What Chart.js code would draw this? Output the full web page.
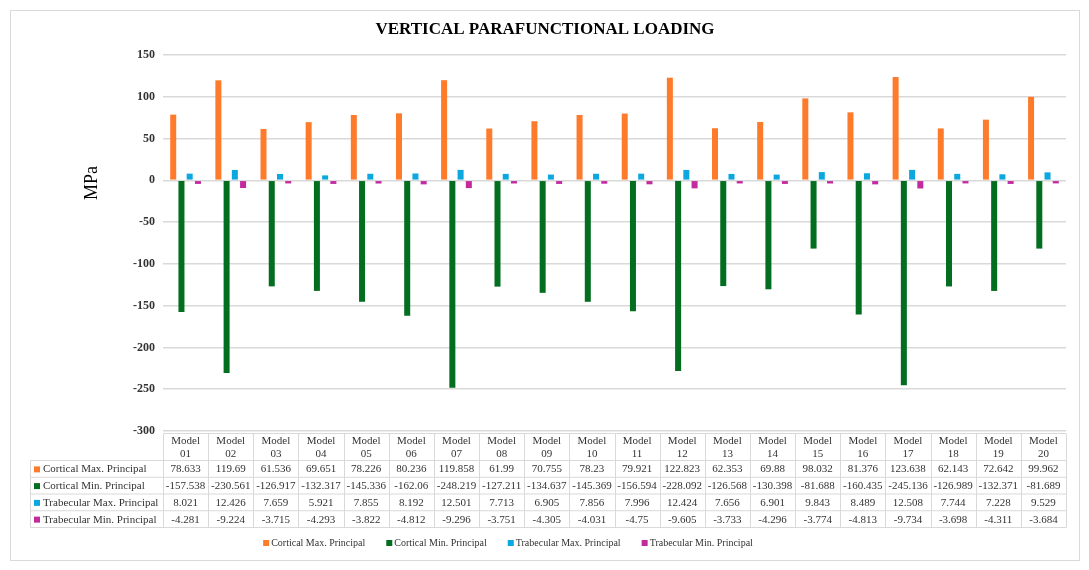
<!DOCTYPE html>
<html>
<head>
<meta charset="utf-8">
<script src="https://cdn.jsdelivr.net/npm/chart.js@4/dist/chart.umd.min.js"></script>
<style>
  body { margin: 0; background: #fff; }
  #wrap { width: 1089px; height: 570px; position: relative; }
</style>
</head>
<body>
<div id="wrap"><canvas id="grafico"></canvas></div>
<script>
// --- Dados ---
const modelos = ['01','02','03','04','05','06','07','08','09','10','11','12','13','14','15','16','17','18','19','20'];
const corticalMax = [78.633, 119.69, 61.536, 69.651, 78.226, 80.236, 119.858, 61.99, 70.755, 78.23, 79.921, 122.823, 62.353, 69.88, 98.032, 81.376, 123.638, 62.143, 72.642, 99.962];
const corticalMin = [-157.538, -230.561, -126.917, -132.317, -145.336, -162.06, -248.219, -127.211, -134.637, -145.369, -156.594, -228.092, -126.568, -130.398, -81.688, -160.435, -245.136, -126.989, -132.371, -81.689];
const trabecularMax = [8.021, 12.426, 7.659, 5.921, 7.855, 8.192, 12.501, 7.713, 6.905, 7.856, 7.996, 12.424, 7.656, 6.901, 9.843, 8.489, 12.508, 7.744, 7.228, 9.529];
const trabecularMin = [-4.281, -9.224, -3.715, -4.293, -3.822, -4.812, -9.296, -3.751, -4.305, -4.031, -4.75, -9.605, -3.733, -4.296, -3.774, -4.813, -9.734, -3.698, -4.311, -3.684];
const nomesSeries = ['Cortical Max. Principal', 'Cortical Min. Principal', 'Trabecular Max. Principal', 'Trabecular Min. Principal'];
const coresSeries = ['#FF7B2C', '#036E1F', '#0AA8DE', '#C22A9F'];
const titulo = 'VERTICAL PARAFUNCTIONAL LOADING';
const tituloEixo = 'MPa';

const FONTE = '"Liberation Serif", "Times New Roman", serif';
const COR_GRADE = '#d9d9d9';

// --- Tabela de dados, título e legenda desenhados à mão ---
const tabelaPlugin = {
    id: 'tabela',
    afterDraw(chart) {
        const ctx = chart.ctx;
        const x = chart.scales.x;
        const area = chart.chartArea;
        const meia = (x.getPixelForValue(1) - x.getPixelForValue(0)) / 2;
        const series = [corticalMax, corticalMin, trabecularMax, trabecularMin];

        ctx.save();
        // moldura externa
        ctx.strokeStyle = COR_GRADE;
        ctx.lineWidth = 1;
        ctx.strokeRect(10.5, 10.5, 1069, 550);

        // título
        ctx.fillStyle = '#000';
        ctx.font = 'bold 17px ' + FONTE;
        ctx.textAlign = 'center';
        ctx.textBaseline = 'middle';
        ctx.fillText(titulo, 545, 30);

        // título do eixo y
        ctx.save();
        ctx.translate(92, 183);
        ctx.rotate(-Math.PI / 2);
        ctx.font = '18px ' + FONTE;
        ctx.fillText(tituloEixo, 0, 0);
        ctx.restore();

        // linhas da tabela
        const topo = 433.5;
        const cab = 460.5;
        const altLinha = 16.75;
        const fim = cab + altLinha * 4;
        const esq = 30.5;
        ctx.strokeStyle = COR_GRADE;
        ctx.beginPath();
        ctx.moveTo(area.left, topo); ctx.lineTo(area.right, topo);
        for (let r = 0; r <= 4; r++) {
            const y = cab + altLinha * r;
            ctx.moveTo(esq, y); ctx.lineTo(area.right, y);
        }
        ctx.moveTo(esq, cab); ctx.lineTo(esq, fim);
        for (let i = 0; i <= modelos.length; i++) {
            const xx = Math.round(x.getPixelForValue(0) - meia + i * meia * 2) + 0.5;
            ctx.moveTo(xx, topo); ctx.lineTo(xx, fim);
        }
        ctx.stroke();

        // cabeçalho
        ctx.fillStyle = '#333';
        ctx.font = '11px ' + FONTE;
        ctx.textAlign = 'center';
        modelos.forEach((m, i) => {
            const cx = x.getPixelForValue(i);
            ctx.fillText('Model', cx, 441);
            ctx.fillText(m, cx, 454);
        });

        // linhas de valores
        series.forEach((valores, r) => {
            const cy = cab + altLinha * r + altLinha / 2 + 0.5;
            ctx.fillStyle = coresSeries[r];
            ctx.fillRect(34, cy - 3, 6, 6);
            ctx.fillStyle = '#333';
            ctx.textAlign = 'left';
            ctx.fillText(nomesSeries[r], 43, cy);
            ctx.textAlign = 'center';
            valores.forEach((v, i) => {
                ctx.fillText(String(v), x.getPixelForValue(i), cy);
            });
        });

        // legenda
        ctx.font = '10px ' + FONTE;
        const caixa = 6, folga = 2, espaco = 21;
        const larguras = nomesSeries.map(n => caixa + folga + ctx.measureText(n).width);
        const total = larguras.reduce((a, b) => a + b, 0) + espaco * (larguras.length - 1);
        let lx = 508 - total / 2;
        const ly = 543;
        nomesSeries.forEach((n, i) => {
            ctx.fillStyle = coresSeries[i];
            ctx.fillRect(lx, ly - 3, caixa, caixa);
            ctx.fillStyle = '#333';
            ctx.textAlign = 'left';
            ctx.fillText(n, lx + caixa + folga, ly);
            lx += larguras[i] + espaco;
        });
        ctx.restore();
    }
};

const dadosSeries = [corticalMax, corticalMin, trabecularMax, trabecularMin];

new Chart(document.getElementById('grafico'), {
    type: 'bar',
    data: {
        labels: modelos.map(m => 'Model ' + m),
        datasets: dadosSeries.map((d, i) => ({
            label: nomesSeries[i],
            data: d,
            backgroundColor: coresSeries[i],
            borderWidth: 0,
            categoryPercentage: 0.73,
            barPercentage: 0.73
        }))
    },
    options: {
        responsive: true,
        maintainAspectRatio: false,
        animation: false,
        layout: { padding: { top: 55, right: 23, bottom: 139, left: 10 } },
        plugins: {
            legend: { display: false },
            title: { display: false },
            tooltip: { enabled: false }
        },
        scales: {
            x: { display: false },
            y: {
                min: -300,
                max: 150,
                afterFit(axis) { axis.width = 153; },
                ticks: {
                    stepSize: 50,
                    padding: 8,
                    color: '#333',
                    font: { family: FONTE, size: 12, weight: 'bold' }
                },
                grid: { color: COR_GRADE, drawTicks: false, lineWidth: 1.5 },
                border: { display: false }
            }
        }
    },
    plugins: [tabelaPlugin]
});
</script>
</body>
</html>
